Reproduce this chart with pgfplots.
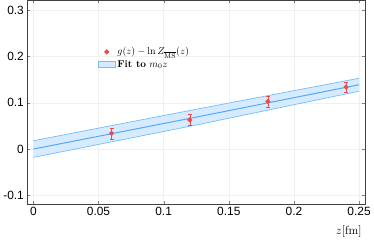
\documentclass[border=0pt]{standalone}
\usepackage{fontspec}
\usepackage{pgfplots}
\pgfplotsset{compat=1.18}
\newfontfamily\tickfont{Liberation Sans}
\definecolor{ptred}{rgb}{0.93,0.30,0.30}
\definecolor{fitblue}{rgb}{0.33,0.66,0.96}
\definecolor{bandedge}{rgb}{0.45,0.74,0.98}
\definecolor{bandfill}{rgb}{0.84,0.92,1.0}
\definecolor{framec}{rgb}{0.25,0.25,0.25}
\begin{document}
\begin{tikzpicture}
\begin{axis}[
  scale only axis,
  width=340pt, height=205pt,
  xmin=-0.0046, xmax=0.2546,
  ymin=-0.119, ymax=0.321,
  xtick={0,0.05,0.1,0.15,0.2,0.25},
  xticklabels={0,0.05,0.1,0.15,0.2,0.25},
  ytick={-0.1,0,0.1,0.2,0.3},
  yticklabels={-0.1,0,0.1,0.2,0.3},
  tick label style={font=\tickfont\large},
  tick align=inside,
  major tick length=3pt,
  grid=major,
  grid style={gray!12},
  axis line style={framec, line width=1pt},
  xlabel={$z[\mathrm{fm}]$},
  xlabel style={at={(axis description cs:1,0)}, anchor=north east, yshift=-18pt, font=\large},
  legend style={at={(axis description cs:0.20,0.79)}, anchor=north west, draw=none, fill=none},
  legend cell align=left,
]
\addplot[draw=none, fill=bandfill, forget plot] coordinates {
  (0,0.018) (0.125,0.086) (0.25,0.153) (0.25,0.125) (0.125,0.052) (0,-0.018) (0,0.018)};
\addplot[bandedge, line width=0.7pt, forget plot] coordinates {(0,0.018) (0.125,0.086) (0.25,0.153)};
\addplot[bandedge, line width=0.7pt, forget plot] coordinates {(0,-0.018) (0.125,0.052) (0.25,0.125)};
\addplot[fitblue, line width=1pt, forget plot] coordinates {(0,0.0) (0.125,0.069) (0.25,0.139)};
\addplot[ptred, line width=1pt, only marks, mark=*, mark size=2pt,
  error bars/.cd, y dir=both, y explicit]
  coordinates {
  (0.06,0.034) +- (0,0.012)
  (0.12,0.063) +- (0,0.012)
  (0.18,0.103) +- (0,0.012)
  (0.24,0.134) +- (0,0.011)
};
\addlegendentry{$g(z)-\ln Z_{\overline{\mathrm{MS}}}(z)$}
\addlegendimage{area legend, fill=bandfill, draw=bandedge}
\addlegendentry{\textbf{Fit to} $m_0 z$}
\end{axis}
\end{tikzpicture}
\end{document}
